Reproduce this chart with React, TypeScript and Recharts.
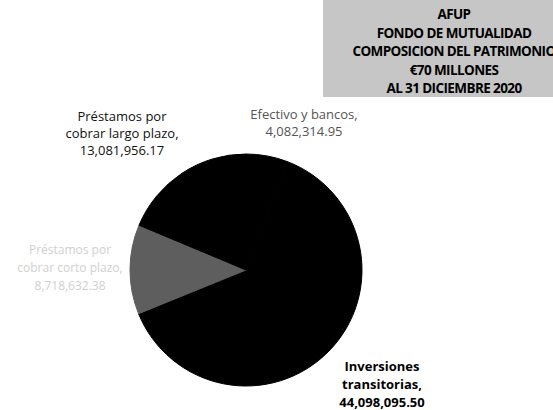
import React from "react";
import { PieChart, Pie, Cell } from "recharts";

// ---- data ----
const categories = [
  "Efectivo y bancos",
  "Inversiones transitorias",
  "Préstamos por cobrar corto plazo",
  "Préstamos por cobrar largo plazo",
];
const values = [4082314.95, 44098095.5, 8718632.38, 13081956.17];
const titleLines = [
  "AFUP",
  "FONDO DE MUTUALIDAD",
  "COMPOSICION DEL PATRIMONIO",
  "€70 MILLONES",
  "AL 31 DICIEMBRE 2020",
];
const labelLines = [
  ["Efectivo y bancos,"],
  ["Inversiones", "transitorias,"],
  ["Préstamos por", "cobrar corto plazo,"],
  ["Préstamos por", "cobrar largo plazo,"],
];

// ---- style / layout ----
const fills = ["#000000", "#000000", "#5e5e5e", "#000000"];
const labelColors = ["#555555", "#000000", "#d0d0d0", "#111111"];
const labelWeights = [400, 700, 400, 400];
const labelSizes = [13, 13, 12, 13];
const labelOffsets = [
  { dx: 58, dy: -156, lh: 17 },
  { dx: 136, dy: 96, lh: 18 },
  { dx: -176, dy: -21, lh: 18 },
  { dx: -124, dy: -154, lh: 17 },
];

const data = categories.map((name, i) => ({ name, value: values[i] }));

const fmt = (v: number) =>
  v.toLocaleString("en-US", { minimumFractionDigits: 2, maximumFractionDigits: 2 });

const renderLabel = (props: any) => {
  const { cx, cy, index, value } = props;
  const o = labelOffsets[index];
  const lines = [...labelLines[index], fmt(value)];
  return (
    <g key={"lbl" + index}>
      {lines.map((t, j) => (
        <text
          key={j}
          x={cx + o.dx}
          y={cy + o.dy + j * o.lh}
          textAnchor="middle"
          dominantBaseline="central"
          fill={labelColors[index]}
          fontWeight={labelWeights[index]}
          fontSize={labelSizes[index]}
          fontFamily="'Open Sans', sans-serif"
        >
          {t}
        </text>
      ))}
    </g>
  );
};

export default function App() {
  return (
    <div
      style={{
        position: "absolute",
        left: 0,
        top: 0,
        width: 553,
        height: 410,
        background: "#ffffff",
        overflow: "hidden",
      }}
    >
      <PieChart width={553} height={410} margin={{ top: 0, right: 0, bottom: 0, left: 0 }}>
        <Pie
          data={data}
          dataKey="value"
          nameKey="name"
          cx={246}
          cy={270}
          outerRadius={116}
          startAngle={90}
          endAngle={-270}
          label={renderLabel}
          labelLine={false}
          isAnimationActive={false}
        >
          {data.map((d, i) => (
            <Cell key={d.name} fill={fills[i]} stroke={fills[i]} strokeWidth={1} />
          ))}
        </Pie>
      </PieChart>
      <div
        style={{
          position: "absolute",
          left: 323,
          top: 0,
          width: 262,
          height: 97,
          background: "#c6c6c6",
        }}
      >
        {titleLines.map((t, i) => (
          <div
            key={i}
            style={{
              position: "absolute",
              left: -20,
              width: 302,
              top: 5 + i * 18.5,
              textAlign: "center",
              fontFamily: "'Open Sans', sans-serif",
              fontWeight: 700,
              fontSize: 13.5,
              letterSpacing: -0.6,
              lineHeight: "18px",
              color: "#000",
              whiteSpace: "nowrap",
            }}
          >
            {t}
          </div>
        ))}
      </div>
    </div>
  );
}
